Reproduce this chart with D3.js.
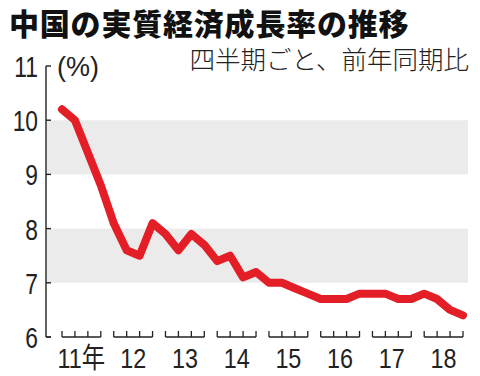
<!DOCTYPE html>
<html><head><meta charset="utf-8">
<script src="https://cdn.jsdelivr.net/npm/d3@7"></script>
<style>html,body{margin:0;padding:0;background:#fff;}svg{display:block;}</style>
</head><body>
<script>
const title = "中国の実質経済成長率の推移";
const subtitle = "四半期ごと、前年同期比";
const unitLabel = "(%)";
const years = ["11年","12","13","14","15","16","17","18"];
const quarters = ["Q1","Q2","Q3","Q4"];
const growth = [
  10.2, 10.0, 9.4, 8.8,
  8.1, 7.6, 7.5, 8.1,
  7.9, 7.6, 7.9, 7.7,
  7.4, 7.5, 7.1, 7.2,
  7.0, 7.0, 6.9, 6.8,
  6.7, 6.7, 6.7, 6.8,
  6.8, 6.8, 6.7, 6.7,
  6.8, 6.7, 6.5, 6.4
];
const yTicks = [6,7,8,9,10,11];
const bands = [[9,10],[7,8]];

const W = 480, H = 376;
const svg = d3.select("body").append("svg").attr("width", W).attr("height", H);

const axisX = 46, plotRight = 468;
const y = d3.scaleLinear().domain([6, 11]).range([337, 66]);
const x = d3.scaleLinear().domain([0, growth.length - 1]).range([62, 463]);

// bands
svg.selectAll("rect.band").data(bands).join("rect")
  .attr("x", axisX + 1).attr("width", plotRight - axisX - 1)
  .attr("y", d => y(d[1])).attr("height", d => y(d[0]) - y(d[1]))
  .attr("fill", "#ebebeb");

// y axis line and ticks
const axisG = svg.append("g").attr("stroke", "#222").attr("stroke-width", 1.4).attr("fill", "none");
axisG.append("line").attr("x1", axisX).attr("x2", axisX).attr("y1", y(11)).attr("y2", y(6));
axisG.selectAll("line.yt").data(yTicks).join("line")
  .attr("x1", axisX).attr("x2", axisX + 5).attr("y1", d => y(d)).attr("y2", d => y(d));

// y labels
svg.selectAll("g.yl").data(yTicks).join("g")
  .attr("transform", d => `translate(38,${y(d) + 11}) scale(0.76,1)`)
  .append("text").attr("text-anchor", "end")
  .attr("font-family", "Liberation Sans, Arial, sans-serif").attr("font-size", 30)
  .attr("fill", "#222").text(d => d);

// unit label
svg.append("text").attr("x", 57).attr("y", 76)
  .attr("font-family", "Liberation Sans, Arial, sans-serif").attr("font-size", 27)
  .attr("fill", "#222").text(unitLabel);

// x axis groups
const xg = svg.append("g").attr("stroke", "#222").attr("stroke-width", 1.3).attr("fill", "none");
years.forEach((yr, i) => {
  const idx = quarters.map((q, j) => i * 4 + j);
  const x0 = x(idx[0]), x1 = x(idx[3]);
  xg.append("line").attr("x1", x0).attr("x2", x1).attr("y1", 337).attr("y2", 337);
  idx.forEach(k => xg.append("line").attr("x1", x(k)).attr("x2", x(k)).attr("y1", 331).attr("y2", 337));
  svg.append("g").attr("transform", `translate(${(x0 + x1) / 2},368) scale(0.82,1)`)
    .append("text").attr("text-anchor", "middle")
    .attr("font-family", "Liberation Sans, 'Noto Sans CJK JP', sans-serif").attr("font-size", 28.5)
    .attr("fill", "#222").text(yr);
});
xg.append("line").attr("x1", axisX).attr("x2", axisX + 5).attr("y1", 337).attr("y2", 337);

// data line
const line = d3.line().x((d, i) => x(i)).y(d => y(d));
svg.append("path").datum(growth).attr("d", line)
  .attr("fill", "none").attr("stroke", "#e41e26").attr("stroke-width", 8)
  .attr("stroke-linejoin", "round").attr("stroke-linecap", "round");

// titles
svg.append("text").attr("x", 9).attr("y", 35)
  .attr("font-family", "'Liberation Sans', 'Noto Sans CJK JP', sans-serif").attr("font-weight", 900)
  .attr("font-size", 30).attr("letter-spacing", 0.8).attr("fill", "#111").text(title);
svg.append("text").attr("x", 469).attr("y", 69).attr("text-anchor", "end")
  .attr("font-family", "'Liberation Sans', 'Noto Sans CJK JP', sans-serif").attr("font-weight", 300)
  .attr("font-size", 25.5).attr("fill", "#222").text(subtitle);
</script>
</body></html>
